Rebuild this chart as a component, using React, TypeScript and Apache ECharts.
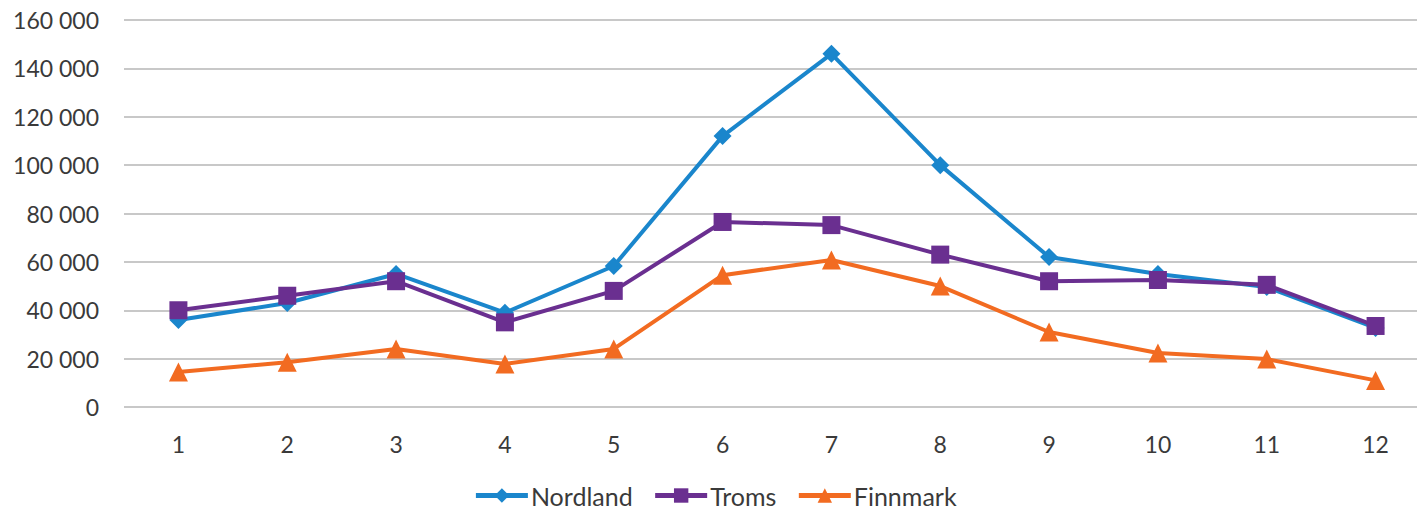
import React, { useEffect, useRef } from "react";
import * as echarts from "echarts";

const months = ["1", "2", "3", "4", "5", "6", "7", "8", "9", "10", "11", "12"];
const nordland = [36000, 43000, 55000, 39000, 58300, 112000, 146000, 100000, 62000, 55000, 49600, 32700];
const troms = [40000, 46000, 52000, 35000, 48000, 76500, 75200, 63000, 52000, 52500, 50500, 33500];
const finnmark = [14500, 18500, 24000, 17800, 24000, 54500, 60800, 50000, 31000, 22300, 19800, 11000];

const fmt = (v: number) => String(v).replace(/\B(?=(\d{3})+(?!\d))/g, " ");

export default function App() {
  const ref = useRef<HTMLDivElement>(null);
  useEffect(() => {
    if (!ref.current) return;
    const chart = echarts.init(ref.current, undefined, { renderer: "svg" });
    const font = "Lato, 'Open Sans', sans-serif";
    const mk = (name: string, data: number[], color: string, symbol: string, size: number) => ({
      name,
      type: "line",
      data,
      symbol,
      symbolSize: size,
      showAllSymbol: true,
      lineStyle: { color, width: 4 },
      itemStyle: { color },
    });
    chart.setOption({
      animation: false,
      textStyle: { fontFamily: font },
      grid: { left: 124, right: 0, top: 20, height: 387, containLabel: false },
      xAxis: {
        type: "category",
        data: months,
        boundaryGap: true,
        axisLine: { show: false },
        axisTick: { show: false },
        axisLabel: { color: "#3a3a3a", fontSize: 23, margin: 25, fontFamily: font },
      },
      yAxis: {
        type: "value",
        min: 0,
        max: 160000,
        interval: 20000,
        axisLine: { show: false },
        axisTick: { show: false },
        axisLabel: { color: "#3a3a3a", fontSize: 23, margin: 25, formatter: fmt, fontFamily: font },
        splitLine: { lineStyle: { color: "#c8c8c8", width: 2 } },
      },
      legend: {
        bottom: -3,
        left: "center",
        itemWidth: 52,
        itemHeight: 18,
        itemGap: 20,
        lineStyle: { width: 5 },
        textStyle: { color: "#3a3a3a", fontSize: 25, fontFamily: font, padding: [0, 0, 0, -2] },
        data: ["Nordland", "Troms", "Finnmark"],
      },
      series: [
        mk("Nordland", nordland, "#1a86cc", "diamond", 18),
        mk("Troms", troms, "#6a2f90", "rect", 18),
        mk("Finnmark", finnmark, "#f26b21", "triangle", 19),
      ],
    });
    return () => chart.dispose();
  }, []);
  return (
    <div style={{ position: "absolute", left: 0, top: 0, width: 1417, height: 510, overflow: "hidden", background: "#fff" }}>
      <div ref={ref} style={{ width: 1430, height: 510 }} />
    </div>
  );
}
